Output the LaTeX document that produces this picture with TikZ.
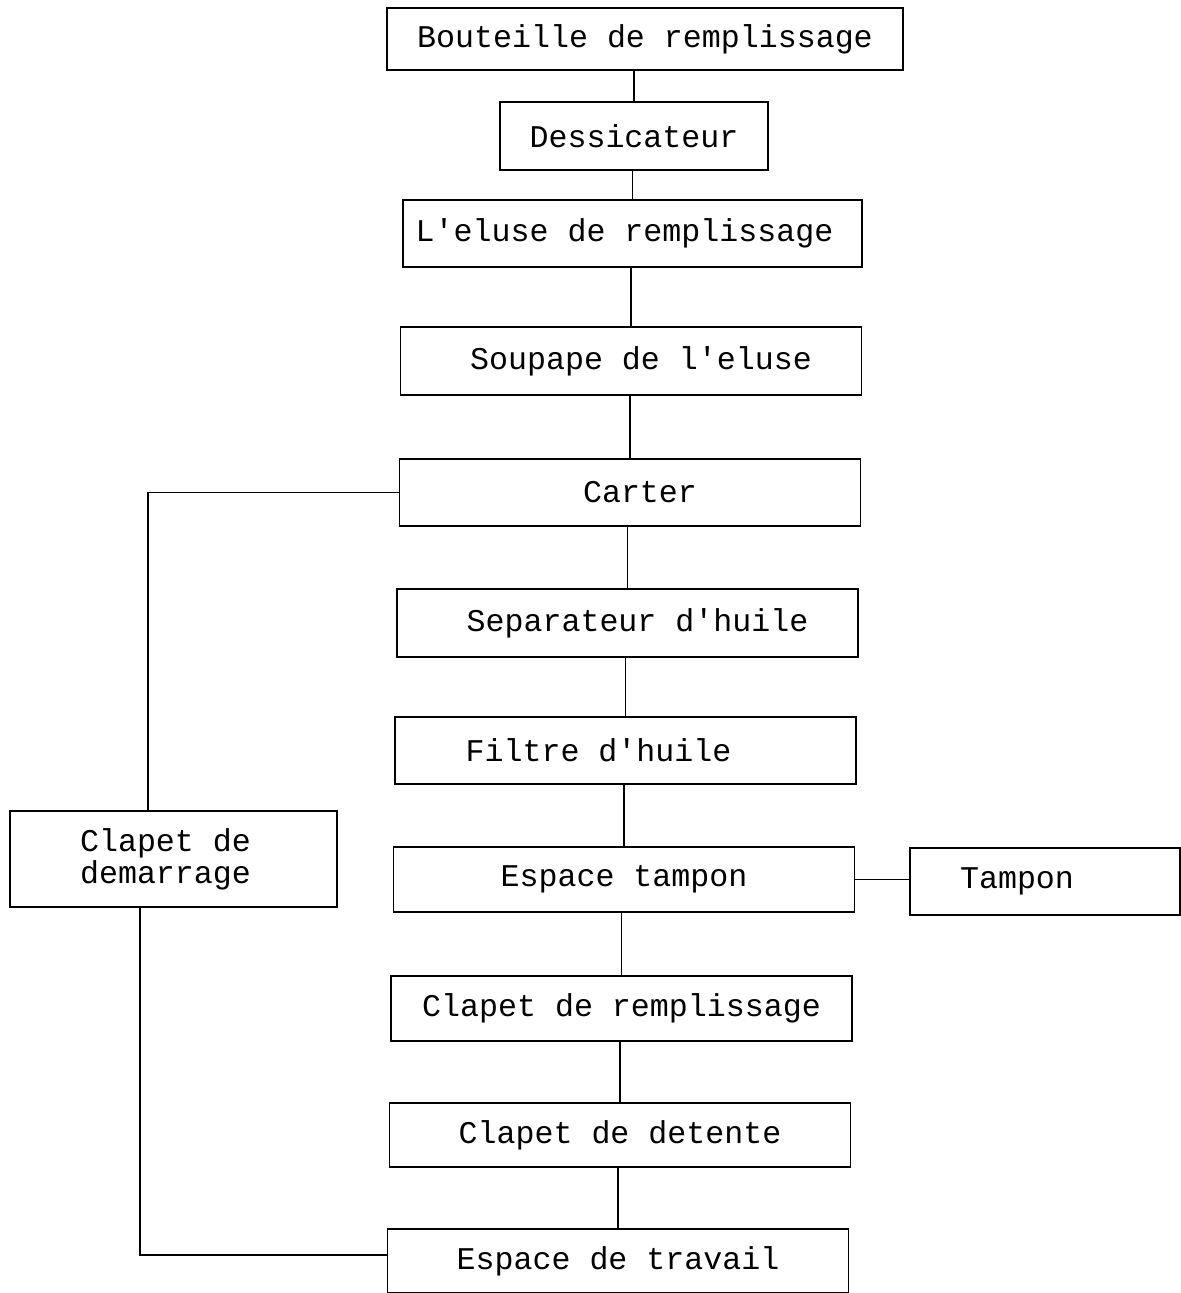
\documentclass[tikz,border=0pt]{standalone}
\usepackage{fontspec}
\setmonofont{Liberation Mono}
\usetikzlibrary{positioning}

\begin{document}
\begin{tikzpicture}[
  box/.style={draw, line width=1.1pt, minimum width=9.22cm, minimum height=1.34cm, align=center, inner sep=0pt, font=\ttfamily\fontsize{18}{18}\selectfont},
  link/.style={line width=1.1pt}
]
\useasboundingbox (0,0) rectangle (23.62,-25.86);

\node[box, minimum width=10.32cm, minimum height=1.24cm] (bout) at (12.90, -0.78) {Bouteille de remplissage};
\node[box, minimum width=5.36cm, minimum height=1.36cm] (dess) at (12.68, -2.72) {Dessicateur};
\node[box, minimum width=9.18cm] (eluse) at (12.65, -4.67) {L'eluse de remplissage\hspace{0.32cm}};
\node[box, minimum height=1.36cm] (soup) at (12.62, -7.22) {\hspace{0.4cm}Soupape de l'eluse};
\node[box] (carter) at (12.60, -9.85) {\hspace{0.4cm}Carter};
\node[box, minimum height=1.36cm] (sep) at (12.55, -12.46) {\hspace{0.4cm}Separateur d'huile};
\node[box] (filtre) at (12.51, -15.01) {Filtre d'huile\hspace{1.08cm}};
\node[box, minimum height=1.30cm] (esptamp) at (12.48, -17.59) {Espace tampon};
\node[box, minimum width=5.4cm] (tampon) at (20.90, -17.63) {Tampon\hspace{1.12cm}};
\node[box, minimum height=1.30cm] (clrempl) at (12.43, -20.17) {Clapet de remplissage};
\node[box, minimum height=1.28cm] (cldet) at (12.40, -22.70) {Clapet de detente};
\node[box, minimum height=1.28cm] (travail) at (12.36, -25.22) {Espace de travail};
\node[box, minimum width=6.54cm, minimum height=1.92cm] (demar) at (3.47, -17.18) {Clapet de\hspace*{0.32cm}\\demarrage\hspace*{0.32cm}};

\draw[link] (dess.north) -- (dess.north |- bout.south);
\draw[link] (eluse.north) -- (eluse.north |- dess.south);
\draw[link] (soup.north) -- (soup.north |- eluse.south);
\draw[link] (carter.north) -- (carter.north |- soup.south);
\draw[link] (sep.north) -- (sep.north |- carter.south);
\draw[link] (filtre.north) -- (filtre.north |- sep.south);
\draw[link] (esptamp.north) -- (esptamp.north |- filtre.south);
\draw[link] (clrempl.north) -- (clrempl.north |- esptamp.south);
\draw[link] (cldet.north) -- (cldet.north |- clrempl.south);
\draw[link] (travail.north) -- (travail.north |- cldet.south);
\draw[link] (esptamp.east) -- (esptamp.east -| tampon.west);
\draw[link] (carter.west) -| ([xshift=-0.51cm]demar.north);
\draw[link] ([xshift=-0.67cm]demar.south) |- ([yshift=0.12cm]travail.west);

\end{tikzpicture}
\end{document}
